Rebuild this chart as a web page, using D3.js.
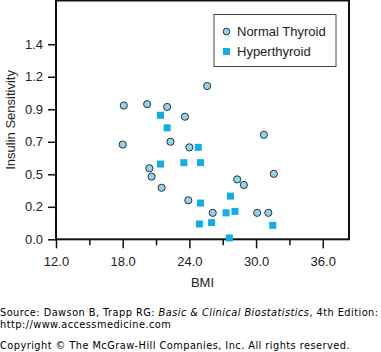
<!DOCTYPE html>
<html>
<head>
<meta charset="utf-8">
<script src="https://cdn.jsdelivr.net/npm/d3@7"></script>
<style>
  body { margin: 0; background: #fff; }
  svg { display: block; }
</style>
</head>
<body>
<div id="chart"></div>
<script>
// Normal thyroid group (BMI, insulin sensitivity)
const normalBmi = [18.1, 20.2, 22.0, 23.6, 25.6, 30.7, 22.3, 18.0, 24.0, 20.4, 20.6, 21.5, 23.9, 26.1, 28.3, 28.9, 31.6, 30.1, 31.1];
const normalIns = [0.96, 0.97, 0.95, 0.88, 1.10, 0.75, 0.70, 0.68, 0.66, 0.51, 0.45, 0.37, 0.28, 0.19, 0.43, 0.39, 0.47, 0.19, 0.19];
// Hyperthyroid group
const hyperBmi = [21.4, 22.0, 24.8, 21.4, 23.5, 25.0, 25.0, 24.9, 26.0, 27.7, 27.3, 28.1, 27.6, 31.5];
const hyperIns = [0.89, 0.80, 0.66, 0.54, 0.55, 0.55, 0.26, 0.11, 0.12, 0.31, 0.19, 0.20, 0.01, 0.10];

const xTicks = [12, 15, 18, 21, 24, 27, 30, 33, 36];
const xLabelled = [12, 18, 24, 30, 36];
const yTicks = [0, 1, 2, 3, 4, 5, 6].map(i => i * 0.7 / 3);
const legendItems = ["Normal Thyroid", "Hyperthyroid"];

(function(){
    const W = 381, H = 352;
    const margin = {top: 0.5, left: 56};
    const width = 293, height = 238.8;

    const svg = d3.select("#chart").append("svg")
        .attr("width", W).attr("height", H);

    const g = svg.append("g")
        .attr("transform", "translate(" + margin.left + "," + margin.top + ")");

    const x = d3.scaleLinear().domain([12, 38.36]).range([0, width]);
    const y = d3.scaleLinear().domain([0, 1.714]).range([height, 0]);

    const font = "'Liberation Sans', Arial, Helvetica, sans-serif";
    const textCol = "#222";

    // x axis: major ticks labelled, minor ticks in between
    const xAxis = g.append("g").attr("transform", "translate(0," + height + ")")
        .call(d3.axisBottom(x).tickValues(xTicks)
            .tickSize(9)
            .tickPadding(8)
            .tickFormat(d => xLabelled.includes(d) ? d.toFixed(1) : ""));
    xAxis.select(".domain").remove();
    xAxis.selectAll(".tick line")
        .attr("y2", d => xLabelled.includes(d) ? 9 : 6)
        .attr("stroke", "#111").attr("stroke-width", 1.5);
    xAxis.selectAll("text").attr("font-family", font).attr("font-size", 13).attr("fill", textCol);

    // y axis
    const yAxis = g.append("g")
        .call(d3.axisLeft(y).tickValues(yTicks).tickSize(8).tickPadding(5)
            .tickFormat(d => d.toFixed(1)));
    yAxis.select(".domain").remove();
    yAxis.selectAll(".tick line").attr("stroke", "#111").attr("stroke-width", 1.5);
    yAxis.selectAll("text").attr("font-family", font).attr("font-size", 13).attr("fill", textCol);

    // plot frame
    g.append("rect")
        .attr("x", 0).attr("y", 0)
        .attr("width", width).attr("height", height)
        .attr("fill", "none").attr("stroke", "#111").attr("stroke-width", 2);

    // axis titles
    svg.append("text")
        .attr("x", margin.left + width / 2).attr("y", 287)
        .attr("text-anchor", "middle")
        .attr("font-family", font).attr("font-size", 13).attr("fill", textCol)
        .text("BMI");
    svg.append("text")
        .attr("transform", "translate(15," + (margin.top + height / 2) + ") rotate(-90)")
        .attr("text-anchor", "middle")
        .attr("font-family", font).attr("font-size", 13).attr("fill", textCol)
        .text("Insulin Sensitivity");

    // points
    const normal = normalBmi.map((b, i) => ({bmi: b, ins: normalIns[i]}));
    const hyper = hyperBmi.map((b, i) => ({bmi: b, ins: hyperIns[i]}));

    g.selectAll(".hyper").data(hyper).enter().append("rect")
        .attr("class", "hyper")
        .attr("x", d => x(d.bmi) - 3.5).attr("y", d => y(d.ins) - 3.5)
        .attr("width", 7).attr("height", 7)
        .attr("fill", "#12ade9");

    g.selectAll(".normal").data(normal).enter().append("circle")
        .attr("class", "normal")
        .attr("cx", d => x(d.bmi)).attr("cy", d => y(d.ins))
        .attr("r", 3.6)
        .attr("fill", "#8ed3f0").attr("stroke", "#333").attr("stroke-width", 1);

    // legend
    const lg = svg.append("g").attr("transform", "translate(214,14.5)");
    lg.append("rect").attr("width", 122).attr("height", 52)
        .attr("fill", "#fff").attr("stroke", "#444").attr("stroke-width", 1);
    legendItems.forEach((name, i) => {
        const cy = 17 + i * 20;
        if (i === 0) {
            lg.append("circle").attr("cx", 12.5).attr("cy", cy).attr("r", 3.3)
                .attr("fill", "#8ed3f0").attr("stroke", "#333").attr("stroke-width", 1);
        } else {
            lg.append("rect").attr("x", 9).attr("y", cy - 3.5).attr("width", 7).attr("height", 7)
                .attr("fill", "#12ade9");
        }
        lg.append("text").attr("x", 23).attr("y", cy).attr("dy", "0.35em")
            .attr("font-family", font).attr("font-size", 13).attr("fill", textCol)
            .text(name);
    });

    // source footer
    const foot = "'DejaVu Sans', Verdana, sans-serif";
    const fs = 9.8, ls = 0.45;
    const f1 = svg.append("text").attr("x", 0).attr("y", 316)
        .attr("font-family", foot).attr("font-size", fs).attr("letter-spacing", ls).attr("fill", "#000");
    f1.append("tspan").text("Source: Dawson B, Trapp RG: ");
    f1.append("tspan").attr("font-style", "italic").text("Basic & Clinical Biostatistics");
    f1.append("tspan").text(", 4th Edition:");
    svg.append("text").attr("x", 0).attr("y", 328)
        .attr("font-family", foot).attr("font-size", fs).attr("letter-spacing", ls).attr("fill", "#000")
        .text("http://www.accessmedicine.com");
    svg.append("text").attr("x", 0).attr("y", 349)
        .attr("font-family", foot).attr("font-size", fs).attr("letter-spacing", ls).attr("fill", "#000")
        .text("Copyright \u00A9 The McGraw-Hill Companies, Inc. All rights reserved.");
})();
</script>
</body>
</html>
